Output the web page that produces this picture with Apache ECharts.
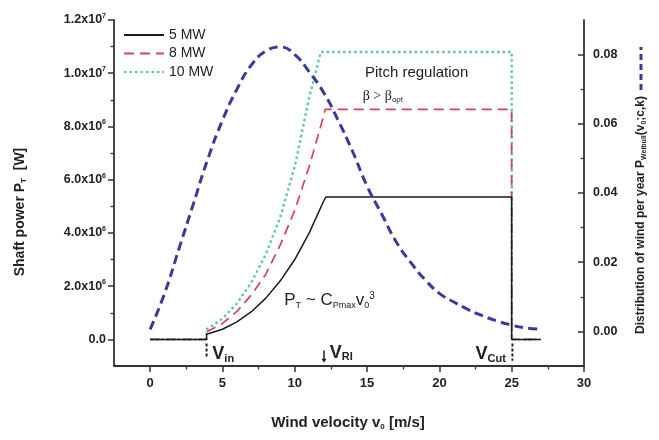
<!DOCTYPE html>
<html><head><meta charset="utf-8">
<script src="https://cdn.jsdelivr.net/npm/echarts@6/dist/echarts.min.js"></script>
<style>html,body{margin:0;padding:0;background:#fff}#c{width:659px;height:440px}</style>
</head><body><div id="c"></div>
<script>
// ---- data ----
const v5  = [0, 3.9, 3.9, 5, 6, 7, 8, 9, 10, 11, 12, 12.15, 25, 25, 27];
const p5  = [0, 0, 0.19e6, 0.38e6, 0.66e6, 1.04e6, 1.55e6, 2.2e6, 3.0e6, 4.0e6, 5.2e6, 5.35e6, 5.35e6, 0, 0];
const v8  = [0, 3.9, 3.9, 5, 6, 7, 8, 9, 10, 11, 12, 12.1, 25, 25, 27];
const p8  = [0, 0, 0.28e6, 0.6e6, 1.05e6, 1.67e6, 2.45e6, 3.55e6, 4.85e6, 6.5e6, 8.4e6, 8.64e6, 8.64e6, 0, 0];
const v10 = [0, 3.9, 3.9, 5, 6, 7, 8, 9, 10, 11, 11.8, 25, 25, 27];
const p10 = [0, 0, 0.37e6, 0.78e6, 1.35e6, 2.14e6, 3.2e6, 4.6e6, 6.5e6, 9.1e6, 10.8e6, 10.8e6, 0, 0];
const vW  = [0,1,2,3,4,5,6,7,8,9,10,11,12,13,14,15,16,17,18,19,20,21,22,23,24,25,26,27];
const pW  = [0.0006,0.011,0.024,0.037,0.050,0.061,0.070,0.077,0.081,0.0822,0.080,0.075,0.069,0.061,0.052,0.042,0.034,0.026,0.020,0.015,0.011,0.0085,0.0063,0.0045,0.0030,0.0018,0.0010,0.0006];

const seriesNames = ['5 MW', '8 MW', '10 MW'];
const xTickValues = [0, 5, 10, 15, 20, 25, 30];
const xMinorTicks = [2.5, 7.5, 12.5, 17.5, 22.5, 27.5];
const leftTickValues = [0, 2e6, 4e6, 6e6, 8e6, 1e7, 1.2e7];
const leftTickLabels = ['0.0', '2.0x10{s|6}', '4.0x10{s|6}', '6.0x10{s|6}', '8.0x10{s|6}', '1.0x10{s|7}', '1.2x10{s|7}'];
const leftMinorTicks = [1e6, 3e6, 5e6, 7e6, 9e6, 1.1e7];
const rightTickValues = [0, 0.02, 0.04, 0.06, 0.08];
const rightTickLabels = ['0.00', '0.02', '0.04', '0.06', '0.08'];
const rightMinorTicks = [0.01, 0.03, 0.05, 0.07];

const FONT = 'Liberation Sans, Arial, Helvetica, sans-serif';
const AX = '#333';
const C5 = '#1a1a1a', C8 = '#d2435e', C10 = '#5cc995', CW = '#3a3a9c';

const zip = (a, b) => a.map((v, i) => [v, b[i]]);

const chart = echarts.init(document.getElementById('c'));
const baseLabel = {fontFamily: FONT, fontWeight: 'bold', fontSize: 12.5, color: '#222'};
const option = {
  animation: false,
  backgroundColor: '#fff',
  grid: {left: 114, right: 75, top: 20, bottom: 74, containLabel: false},
  legend: {
    data: seriesNames, orient: 'vertical', left: 118, top: 23,
    itemWidth: 40, itemHeight: 14, itemGap: 4.5, padding: 5,
    itemStyle: {opacity: 0},
    textStyle: {fontFamily: FONT, fontSize: 14, color: '#222'}
  },
  xAxis: [
    {type: 'value', min: -2.5, max: 30, interval: 2.5, position: 'bottom',
     axisLine: {show: true, onZero: false, lineStyle: {color: AX, width: 1.8}},
     axisTick: {show: true, length: 6, customValues: xTickValues, lineStyle: {color: AX, width: 1.5}},
     axisLabel: Object.assign({}, baseLabel, {customValues: xTickValues, margin: 11, fontSize: 13}),
     splitLine: {show: false}},
    {type: 'value', min: -2.5, max: 30, interval: 2.5, position: 'bottom',
     axisLine: {show: false, onZero: false},
     axisTick: {show: true, length: 3.5, customValues: xMinorTicks, lineStyle: {color: AX, width: 1.3}},
     axisLabel: {show: false}, splitLine: {show: false}}
  ],
  yAxis: [
    {type: 'value', min: -1e6, max: 1.2e7, interval: 1e6, position: 'left',
     axisLine: {show: true, onZero: false, lineStyle: {color: AX, width: 1.8}},
     axisTick: {show: true, length: 6, customValues: leftTickValues, lineStyle: {color: AX, width: 1.5}},
     axisLabel: Object.assign({}, baseLabel, {
       customValues: leftTickValues, margin: 8,
       formatter: v => { const i = leftTickValues.indexOf(v); return i >= 0 ? leftTickLabels[i] : ''; },
       rich: {s: {fontFamily: FONT, fontWeight: 'bold', fontSize: 7, color: '#222', padding: [0, 0, 8, 0]}}
     }),
     splitLine: {show: false}},
    {type: 'value', min: -1e6, max: 1.2e7, interval: 1e6, position: 'left',
     axisLine: {show: false, onZero: false},
     axisTick: {show: true, length: 3.5, customValues: leftMinorTicks, lineStyle: {color: AX, width: 1.3}},
     axisLabel: {show: false}, splitLine: {show: false}},
    {type: 'value', min: -0.01, max: 0.09, interval: 0.01, position: 'right',
     axisLine: {show: true, onZero: false, lineStyle: {color: AX, width: 1.8}},
     axisTick: {show: true, inside: true, length: 6, customValues: rightTickValues, lineStyle: {color: AX, width: 1.5}},
     axisLabel: Object.assign({}, baseLabel, {
       customValues: rightTickValues, margin: 9,
       formatter: v => { let i = -1; rightTickValues.forEach((t, k) => { if (Math.abs(t - v) < 1e-9) i = k; }); return i >= 0 ? rightTickLabels[i] : ''; }
     }),
     splitLine: {show: false}},
    {type: 'value', min: -0.01, max: 0.09, interval: 0.01, position: 'right',
     axisLine: {show: false, onZero: false},
     axisTick: {show: true, inside: true, length: 3.5, customValues: rightMinorTicks, lineStyle: {color: AX, width: 1.3}},
     axisLabel: {show: false}, splitLine: {show: false}}
  ],
  series: [
    {name: '10 MW', type: 'line', data: zip(v10, p10), xAxisIndex: 0, yAxisIndex: 0, symbol: 'none',
     lineStyle: {color: C10, width: 2.4, type: [2.5, 3]}, itemStyle: {color: C10}},
    {name: '8 MW', type: 'line', data: zip(v8, p8), xAxisIndex: 0, yAxisIndex: 0, symbol: 'none',
     lineStyle: {color: C8, width: 1.7, type: [10, 6]}, itemStyle: {color: C8}},
    {name: '5 MW', type: 'line', data: zip(v5, p5), xAxisIndex: 0, yAxisIndex: 0, symbol: 'none',
     lineStyle: {color: C5, width: 1.5}, itemStyle: {color: C5}},
    {name: 'Weibull', type: 'line', data: zip(vW, pW), xAxisIndex: 0, yAxisIndex: 2, symbol: 'none', smooth: true,
     lineStyle: {color: CW, width: 3, type: [9, 5]}, itemStyle: {color: CW}}
  ]
};
chart.setOption(option);

// ---- annotations placed through the chart's own coordinate system ----
const P = (x, y, yi) => chart.convertToPixel({xAxisIndex: 0, yAxisIndex: yi || 0}, [x, y]);
const g = [];
const txt = (pos, text, style, extra) => g.push(Object.assign({
  type: 'text', x: pos[0], y: pos[1],
  style: Object.assign({text: text, fill: '#222', fontFamily: FONT, align: 'left', verticalAlign: 'middle'}, style)
}, extra || {}));

txt(P(14.85, 10.0e6), 'Pitch regulation', {fontSize: 15});
txt(P(14.7, 9.15e6), 'β > β{s|opt}', {fontSize: 14, fontFamily: 'Liberation Serif, Times New Roman, serif',
  rich: {s: {fontFamily: FONT, fontSize: 8, fill: '#222', padding: [8, 0, 0, 0]}}});
txt(P(9.27, 1.45e6), 'P{s|T} ~ C{s|Pmax}v{s|0}{u|3}', {fontSize: 17,
  rich: {s: {fontFamily: FONT, fontSize: 9, fill: '#222', padding: [9, 0, 0, 0]},
         u: {fontFamily: FONT, fontSize: 10, fill: '#222', padding: [0, 0, 10, 0]}}});
const bsub = {s: {fontFamily: FONT, fontWeight: 'bold', fontSize: 11, fill: '#222', padding: [9, 0, 0, 0]}};
txt(P(4.3, -0.55e6), 'V{s|in}', {fontSize: 18, fontWeight: 'bold', rich: bsub});
txt(P(12.42, -0.5e6), 'V{s|RI}', {fontSize: 18, fontWeight: 'bold', rich: bsub});
txt(P(22.5, -0.55e6), 'V{s|Cut}', {fontSize: 18, fontWeight: 'bold', rich: bsub});

// arrow at v_RI
const a1 = P(12.02, -0.42e6), a2 = P(12.02, -0.88e6);
g.push({type: 'line', shape: {x1: a1[0], y1: a1[1], x2: a2[0], y2: a2[1] - 3}, style: {stroke: '#222', lineWidth: 1.5}});
g.push({type: 'polygon', shape: {points: [[a2[0] - 2.5, a2[1] - 4], [a2[0] + 2.5, a2[1] - 4], [a2[0], a2[1]]]}, style: {fill: '#222'}});
// dashed markers at v_in and v_cut
[[3.9, -0.15e6, -0.72e6], [25.05, -0.15e6, -0.8e6]].forEach(m => {
  const p1 = P(m[0], m[1]), p2 = P(m[0], m[2]);
  g.push({type: 'line', shape: {x1: p1[0], y1: p1[1], x2: p2[0], y2: p2[1]}, style: {stroke: '#222', lineWidth: 2, lineDash: [3, 2]}});
});

// axis titles
g.push({type: 'text', x: 348, y: 423, style: {text: 'Wind velocity v{s|0} [m/s]', fill: '#222', fontFamily: FONT, fontWeight: 'bold', fontSize: 15,
  align: 'center', verticalAlign: 'middle', rich: {s: {fontFamily: FONT, fontWeight: 'bold', fontSize: 8, fill: '#222', padding: [8, 0, 0, 0]}}}});
g.push({type: 'text', x: 20, y: 212, rotation: Math.PI / 2, style: {text: 'Shaft power P{s|T}  [W]', fill: '#222', fontFamily: FONT, fontWeight: 'bold', fontSize: 14,
  align: 'center', verticalAlign: 'middle', rich: {s: {fontFamily: FONT, fontWeight: 'bold', fontSize: 8, fill: '#222', padding: [8, 0, 0, 0]}}}});
g.push({type: 'text', x: 641, y: 215, rotation: Math.PI / 2, style: {text: 'Distribution of wind per year P{s|Weibull}(v{s|0};c,k)', fill: '#222', fontFamily: FONT, fontWeight: 'bold', fontSize: 12,
  align: 'center', verticalAlign: 'middle', rich: {s: {fontFamily: FONT, fontWeight: 'bold', fontSize: 7, fill: '#222', padding: [7, 0, 0, 0]}}}});
// key for the Weibull curve (right axis)
g.push({type: 'line', shape: {x1: 641, y1: 90, x2: 641, y2: 47}, style: {stroke: CW, lineWidth: 3, lineDash: [6, 4]}});

chart.setOption({graphic: g});
</script>
</body></html>
